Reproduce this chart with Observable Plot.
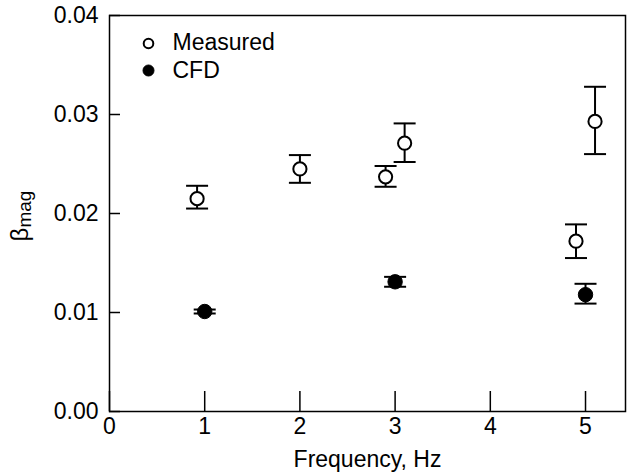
<!DOCTYPE html>
<html><head><meta charset="utf-8">
<script src="https://cdn.jsdelivr.net/npm/d3@7"></script>
<script src="https://cdn.jsdelivr.net/npm/@observablehq/plot@0.6"></script>
<style>body{margin:0;background:#fff} #chart svg{display:block}</style>
</head><body><div id="chart"></div>
<script>
// Data
const measuredFreq = [0.92, 2.0, 2.9, 3.1, 4.9, 5.1];
const measuredBeta = [0.0215, 0.0245, 0.0237, 0.0271, 0.0172, 0.0293];
const measuredLow  = [0.0205, 0.0231, 0.0227, 0.0252, 0.0155, 0.0260];
const measuredHigh = [0.0228, 0.0259, 0.0248, 0.0291, 0.0189, 0.0328];
const cfdFreq = [1, 3, 5];
const cfdBeta = [0.0101, 0.0131, 0.0118];
const cfdLow  = [0.0099, 0.0126, 0.0109];
const cfdHigh = [0.0103, 0.0136, 0.0129];
const xTicks = [0, 1, 2, 3, 4, 5];
const yTicks = [0, 0.01, 0.02, 0.03, 0.04];
const legendItems = ["Measured", "CFD"];

const width = 634, height = 473;
const marginLeft = 109, marginRight = 9, marginTop = 15, marginBottom = 62;
const innerW = width - marginLeft - marginRight;
const innerH = height - marginTop - marginBottom;

const measured = measuredFreq.map((f, i) => ({f, beta: measuredBeta[i], lo: measuredLow[i], hi: measuredHigh[i]}));
const cfd = cfdFreq.map((f, i) => ({f, beta: cfdBeta[i], lo: cfdLow[i], hi: cfdHigh[i]}));
const all = [...measured, ...cfd];

const capSymbol = {draw(ctx, size) { const w = Math.sqrt(size / Math.PI); ctx.moveTo(-w, 0); ctx.lineTo(w, 0); }};
const font = "'Liberation Sans', Arial, sans-serif";

const plot = Plot.plot({
  width, height, marginLeft, marginRight, marginTop, marginBottom,
  style: {fontFamily: font, fontSize: "23px", color: "black", background: "white", overflow: "visible"},
  x: {domain: [0, 5.42]},
  y: {domain: [0, 0.04]},
  marks: [
    Plot.ruleX(xTicks, {x: d => d, insetTop: innerH - 20, stroke: "black", strokeWidth: 1.5}),
    Plot.ruleY(yTicks, {y: d => d, insetRight: innerW - 11, stroke: "black", strokeWidth: 1.5}),
    Plot.axisX(xTicks, {tickSize: 0, tickPadding: 6, tickFormat: d => String(d), label: "Frequency, Hz", labelAnchor: "center", labelOffset: 55, labelArrow: "none", fontSize: 23}),
    Plot.axisY(yTicks, {tickSize: 0, tickPadding: 11, tickFormat: d => d.toFixed(2), label: null, fontSize: 23}),
    Plot.frame({stroke: "black", strokeWidth: 1.5}),
    Plot.ruleX(all, {x: "f", y1: "lo", y2: "hi", stroke: "black", strokeWidth: 2}),
    Plot.dot(all, {x: "f", y: "lo", symbol: capSymbol, r: 11, stroke: "black", strokeWidth: 2}),
    Plot.dot(all, {x: "f", y: "hi", symbol: capSymbol, r: 11, stroke: "black", strokeWidth: 2}),
    Plot.dot(measured, {x: "f", y: "beta", r: 6.6, fill: "white", stroke: "black", strokeWidth: 2}),
    Plot.dot(cfd, {x: "f", y: "beta", r: 7.2, fill: "black", stroke: "black", strokeWidth: 1}),
    // legend
    Plot.dot([legendItems[0]], {frameAnchor: "top-left", dx: 39, dy: 28, r: 4.8, fill: "white", stroke: "black", strokeWidth: 2}),
    Plot.dot([legendItems[1]], {frameAnchor: "top-left", dx: 39, dy: 55, r: 5.5, fill: "black", stroke: "black", strokeWidth: 1}),
    Plot.text([legendItems[0]], {text: d => d, frameAnchor: "top-left", lineAnchor: "middle", dx: 63, dy: 27, textAnchor: "start", fontSize: 23, fill: "black"}),
    Plot.text([legendItems[1]], {text: d => d, frameAnchor: "top-left", lineAnchor: "middle", dx: 63, dy: 55, textAnchor: "start", fontSize: 23, fill: "black"})
  ]
});

// y-axis label with subscript
const svg = d3.select(plot);
const lab = svg.append("text")
  .attr("transform", `translate(28,${marginTop + innerH / 2 + 3}) rotate(-90)`)
  .attr("text-anchor", "middle")
  .attr("font-family", font)
  .attr("font-size", 24)
  .attr("fill", "black");
lab.append("tspan").text("β");
lab.append("tspan").attr("font-size", 19).attr("dy", "0.15em").text("mag");

document.getElementById("chart").appendChild(plot);
</script>
</body></html>
